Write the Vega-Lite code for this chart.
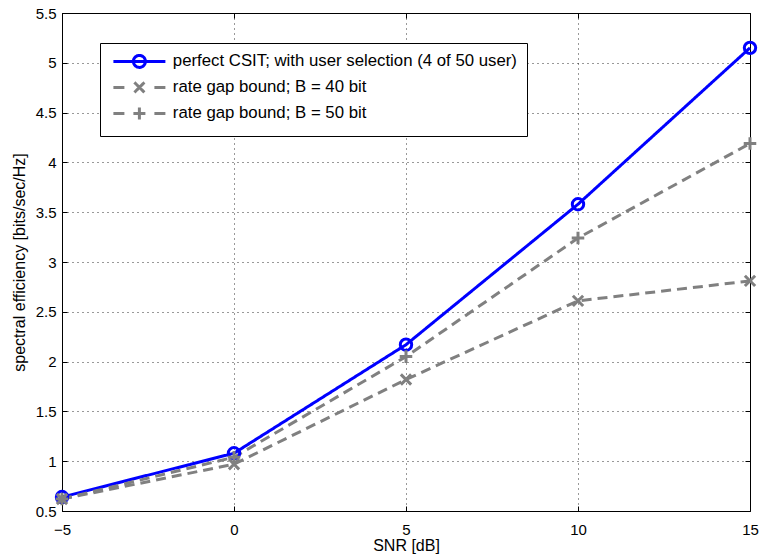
{
  "$schema": "https://vega.github.io/schema/vega-lite/v6.json",
  "width": 688,
  "height": 498,
  "autosize": {"type": "none"},
  "padding": {"left": 62, "top": 13, "right": 9, "bottom": 46},
  "background": "white",
  "config": {
    "view": {"stroke": "black", "strokeWidth": 1},
    "font": "Liberation Sans",
    "axis": {
      "labelFont": "Liberation Sans",
      "titleFont": "Liberation Sans",
      "labelColor": "black",
      "titleColor": "black",
      "titleFontWeight": "normal",
      "domain": false,
      "tickColor": "black",
      "tickSize": -5,
      "tickWidth": 1,
      "labelFlush": false,
      "labelOverlap": false,
      "gridColor": "black",
      "gridDash": [1, 4],
      "gridWidth": 1,
      "gridOpacity": 0.8
    }
  },
  "resolve": {"axis": {"x": "independent", "y": "independent"}},
  "data": {
    "values": [
      {"snr": -5, "se": 0.64, "series": "perfect CSIT; with user selection (4 of 50 user)"},
      {"snr": 0, "se": 1.08, "series": "perfect CSIT; with user selection (4 of 50 user)"},
      {"snr": 5, "se": 2.17, "series": "perfect CSIT; with user selection (4 of 50 user)"},
      {"snr": 10, "se": 3.58, "series": "perfect CSIT; with user selection (4 of 50 user)"},
      {"snr": 15, "se": 5.15, "series": "perfect CSIT; with user selection (4 of 50 user)"},
      {"snr": -5, "se": 0.62, "series": "rate gap bound; B = 40 bit"},
      {"snr": 0, "se": 0.97, "series": "rate gap bound; B = 40 bit"},
      {"snr": 5, "se": 1.82, "series": "rate gap bound; B = 40 bit"},
      {"snr": 10, "se": 2.61, "series": "rate gap bound; B = 40 bit"},
      {"snr": 15, "se": 2.81, "series": "rate gap bound; B = 40 bit"},
      {"snr": -5, "se": 0.62, "series": "rate gap bound; B = 50 bit"},
      {"snr": 0, "se": 1.04, "series": "rate gap bound; B = 50 bit"},
      {"snr": 5, "se": 2.05, "series": "rate gap bound; B = 50 bit"},
      {"snr": 10, "se": 3.24, "series": "rate gap bound; B = 50 bit"},
      {"snr": 15, "se": 4.19, "series": "rate gap bound; B = 50 bit"}
    ]
  },
  "layer": [
    {
      "mark": {"type": "line", "strokeWidth": 3},
      "encoding": {
        "x": {
          "field": "snr", "type": "quantitative",
          "scale": {"domain": [-5, 15], "nice": false, "zero": false},
          "axis": {"values": [-5, 0, 5, 10, 15], "format": "d", "title": "SNR [dB]", "labelFontSize": 15, "titleFontSize": 16, "labelPadding": 16, "titlePadding": 0}
        },
        "y": {
          "field": "se", "type": "quantitative",
          "scale": {"domain": [0.5, 5.5], "nice": false, "zero": false},
          "axis": {"values": [0.5, 1, 1.5, 2, 2.5, 3, 3.5, 4, 4.5, 5, 5.5], "format": "~g", "title": "spectral efficiency [bits/sec/Hz]", "labelFontSize": 15, "titleFontSize": 16, "labelPadding": 11, "titlePadding": 8}
        },
        "color": {
          "field": "series", "type": "nominal",
          "scale": {
            "domain": ["perfect CSIT; with user selection (4 of 50 user)", "rate gap bound; B = 40 bit", "rate gap bound; B = 50 bit"],
            "range": ["#0000ff", "#808080", "#808080"]
          },
          "legend": {
            "orient": "none",
            "legendX": 38,
            "legendY": 30,
            "title": null,
            "labelFont": "Liberation Sans",
            "labelFontSize": 16.8,
            "labelColor": "black",
            "labelLimit": 0,
            "labelOffset": 46,
            "symbolSize": 100,
            "symbolStrokeWidth": 3,
            "rowPadding": 2,
            "padding": 10,
            "strokeColor": "black",
            "fillColor": "white",
            "symbolFillColor": "transparent",
            "encode": {
              "symbols": {
                "update": {
                  "shape": {"signal": "datum.value === 'perfect CSIT; with user selection (4 of 50 user)' ? 'M-1,0H9.4M5.4,0A1.2,1.2,0,1,1,3.0,0A1.2,1.2,0,1,1,5.4,0' : (datum.value === 'rate gap bound; B = 40 bit' ? 'M-1,0H1.2M7.2,0H9.4M3.2,-1L5.2,1M3.2,1L5.2,-1' : 'M-1,0H1.2M7.2,0H9.4M3.0,0H5.4M4.2,-1.2V1.2')"},
                  "fill": {"value": "transparent"},
                  "strokeDash": {"value": [1, 0]},
                  "strokeWidth": {"value": 3},
                  "opacity": {"value": 1}
                }
              }
            }
          }
        },
        "strokeDash": {
          "field": "series", "type": "nominal",
          "scale": {
            "domain": ["rate gap bound; B = 40 bit", "rate gap bound; B = 50 bit", "perfect CSIT; with user selection (4 of 50 user)"],
            "range": [[10, 6], [10, 6], [1, 0]]
          },
          "legend": null
        }
      }
    },
    {
      "mark": {"type": "point", "filled": false, "size": 130, "strokeWidth": 3, "opacity": 1},
      "encoding": {
        "x": {"field": "snr", "type": "quantitative", "axis": {"orient": "top", "values": [-5, 0, 5, 10, 15], "labels": false, "title": null, "grid": false}},
        "y": {"field": "se", "type": "quantitative", "axis": {"orient": "right", "values": [0.5, 1, 1.5, 2, 2.5, 3, 3.5, 4, 4.5, 5, 5.5], "labels": false, "title": null, "grid": false}},
        "color": {"field": "series", "type": "nominal", "legend": null},
        "shape": {
          "field": "series", "type": "nominal",
          "scale": {
            "domain": ["rate gap bound; B = 40 bit", "rate gap bound; B = 50 bit", "perfect CSIT; with user selection (4 of 50 user)"],
            "range": ["M-0.9,-0.9L0.9,0.9M-0.9,0.9L0.9,-0.9", "M-1.1,0H1.1M0,-1.1V1.1", "circle"]
          },
          "legend": null
        }
      }
    }
  ]
}
